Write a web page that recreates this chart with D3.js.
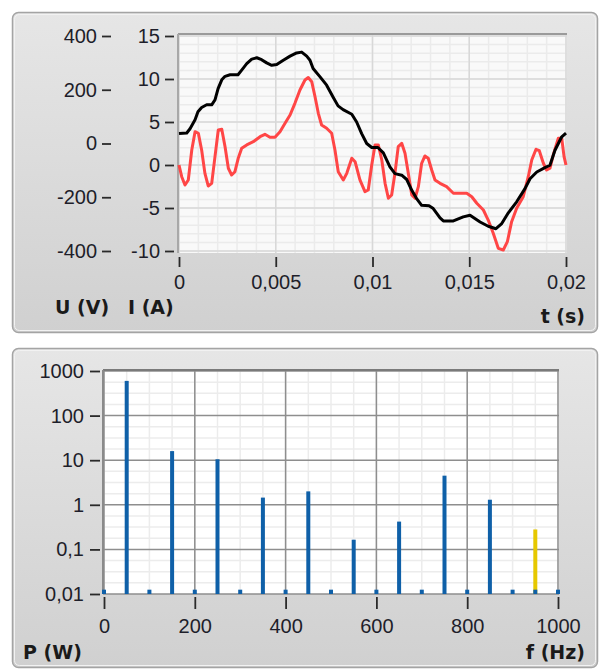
<!DOCTYPE html>
<html>
<head>
<meta charset="utf-8">
<script src="https://cdn.jsdelivr.net/npm/d3@7/dist/d3.min.js"></script>
<style>
  html, body { margin: 0; padding: 0; background: #ffffff; }
  svg { display: block; }
</style>
</head>
<body>
<svg id="chart" width="600" height="671"></svg>
<script>
// ---------------- DATA ----------------
// Voltage U (V) – black curve; time in ms
const tU = [0,0.4,0.57,0.83,0.98,1.17,1.43,1.69,1.86,2.02,2.21,2.38,2.64,3.05,3.24,3.5,3.76,4.02,4.27,4.53,4.79,5.05,5.39,5.74,6.08,6.34,6.6,6.77,6.93,7.29,7.63,7.96,8.22,8.48,8.93,9.18,9.44,9.7,9.96,10.28,10.56,10.9,11.16,11.51,11.77,12.03,12.28,12.54,12.92,13.14,13.49,13.66,14.18,14.69,15.04,15.56,15.98,16.38,16.68,17.02,17.45,17.88,18.14,18.49,18.91,19.17,19.43,19.78,20];
const uVolt = [37,39,55,88,118,134,144,144,162,204,237,250,256,256,273,297,314,319,312,300,291,294,310,325,337,340,325,310,279,248,217,173,140,126,109,80,37,0,-15,-15,-35,-87,-112,-118,-134,-174,-205,-230,-232,-242,-277,-288,-288,-273,-267,-292,-308,-317,-298,-258,-217,-168,-131,-106,-90,-81,-25,25,39];
// Current I (A) – red curve; time in ms
const tI = [0,0.14,0.31,0.48,0.66,0.83,1.0,1.17,1.34,1.51,1.69,1.86,2.03,2.21,2.38,2.55,2.72,2.89,3.06,3.24,3.5,3.84,4.19,4.44,4.7,4.96,5.22,5.48,5.74,5.99,6.25,6.51,6.68,6.86,7.03,7.2,7.37,7.63,7.89,8.06,8.23,8.49,8.67,8.93,9.1,9.35,9.61,9.78,9.96,10.13,10.3,10.48,10.65,10.82,10.99,11.16,11.33,11.51,11.68,11.85,12.03,12.2,12.37,12.54,12.71,12.88,13.06,13.23,13.49,13.83,14.18,14.87,15.13,15.39,15.73,15.98,16.24,16.5,16.76,16.97,17.19,17.45,17.79,18.05,18.23,18.45,18.62,18.83,19.0,19.17,19.34,19.6,19.78,19.9,20];
const iAmp = [0,-1.36,-2.33,-1.74,1.74,3.87,3.69,1.74,-0.97,-2.44,-2.13,0.97,4.07,4.15,2.13,-0.38,-1.16,-0.78,0.78,1.94,2.33,2.71,3.29,3.57,3.22,3.22,3.87,4.85,5.81,7.17,8.72,9.88,10.17,9.69,7.94,6.01,4.65,4.27,3.69,1.74,-0.78,-1.74,-0.97,0.78,0.38,-1.74,-3.1,-2.91,0,2.33,2.33,0.58,-2.13,-3.87,-3.49,-0.97,2.13,2.52,1.36,-0.97,-3.49,-3.87,-2.52,0.2,1.05,0.78,-0.58,-1.74,-2.13,-2.52,-3.29,-3.29,-3.69,-4.45,-5.23,-6.4,-7.94,-9.69,-9.88,-8.92,-6.59,-5.03,-3.69,-1.36,0.58,1.83,1.66,0.2,-0.58,-0.38,1.16,3.1,3.1,0.97,0];

// Spectrum P (W)
const fHz = [0,50,100,150,200,250,300,350,400,450,500,550,600,650,700,750,800,850,900,950,1000];
const pW  = [0.0125,600,0.0125,16,0.0125,10.5,0.0125,1.45,0.0125,2.0,0.0125,0.165,0.0125,0.42,0.0125,4.5,0.0125,1.3,0.0125,0.0125,0.0125];
const fHighlight = [950];
const pHighlight = [0.28];

// Tick values
const tTicks = [0,0.005,0.01,0.015,0.02];
const uTicks = [-400,-200,0,200,400];
const iTicks = [-10,-5,0,5,10,15];
const fTicks = [0,200,400,600,800,1000];
const pTicks = [0.01,0.1,1,10,100,1000];

// ---------------- DRAW ----------------
const svg = d3.select("#chart");
const comma = v => String(v).replace(".", ",");
const TICK_FONT = "'Liberation Sans', Arial, sans-serif";
const LABEL_FONT = "'DejaVu Sans', sans-serif";
const TEXT_COL = "#1e1e2a";

const defs = svg.append("defs");
const grad = defs.append("linearGradient").attr("id", "panelGrad")
  .attr("x1", 0).attr("y1", 0).attr("x2", 0).attr("y2", 1);
grad.append("stop").attr("offset", "0%").attr("stop-color", "#e6e6e6");
grad.append("stop").attr("offset", "100%").attr("stop-color", "#d0d0d0");

function panel(y, h) {
  svg.append("rect").attr("x", 12.5).attr("y", y + 0.5).attr("width", 585).attr("height", h)
    .attr("rx", 6).attr("fill", "url(#panelGrad)").attr("stroke", "#a4a4a4").attr("stroke-width", 1.5);
  svg.append("rect").attr("x", 14.5).attr("y", y + 2.5).attr("width", 581).attr("height", h - 4)
    .attr("rx", 5).attr("fill", "none").attr("stroke", "#f2f2f2").attr("stroke-width", 1);
}
panel(12, 320);
panel(348, 319);

function styleAxis(g) {
  g.select(".domain").remove();
  g.selectAll(".tick line").attr("stroke", "#2a2a2a").attr("stroke-width", 1.8);
  g.selectAll(".tick text").attr("fill", TEXT_COL).style("font-family", TICK_FONT).style("font-size", "20px");
}

// ---- Top chart ----
const x1 = d3.scaleLinear().domain([0, 0.02]).range([179, 566]);
const yI = d3.scaleLinear().domain([-10, 15]).range([251, 36]);
const yU = d3.scaleLinear().domain([-400, 400]).range([251, 36]);
const box1 = { l: 178, r: 567, t: 34, b: 253 };

svg.append("rect").attr("x", box1.l).attr("y", box1.t).attr("width", box1.r - box1.l).attr("height", box1.b - box1.t)
  .attr("fill", "#f9f9f9");
const g1 = svg.append("g");
const tMinor = d3.range(0, 0.02001, 0.001);
g1.selectAll(".vmin").data(tMinor).join("line")
  .attr("x1", d => x1(d)).attr("x2", d => x1(d)).attr("y1", box1.t).attr("y2", box1.b)
  .attr("stroke", "#ebebeb").attr("stroke-width", 1.5);
const iMinor = d3.range(-10, 15.01, 1);
g1.selectAll(".hmin").data(iMinor).join("line")
  .attr("x1", box1.l).attr("x2", box1.r).attr("y1", d => yI(d)).attr("y2", d => yI(d))
  .attr("stroke", "#ebebeb").attr("stroke-width", 1.5);
g1.selectAll(".vmaj").data(tTicks).join("line")
  .attr("x1", d => x1(d)).attr("x2", d => x1(d)).attr("y1", box1.t).attr("y2", box1.b)
  .attr("stroke", "#d8d8d8").attr("stroke-width", 1.5);
g1.selectAll(".hmaj").data(iTicks).join("line")
  .attr("x1", box1.l).attr("x2", box1.r).attr("y1", d => yI(d)).attr("y2", d => yI(d))
  .attr("stroke", "#d8d8d8").attr("stroke-width", 1.5);
svg.append("line").attr("x1", box1.l).attr("x2", box1.r).attr("y1", box1.t).attr("y2", box1.t)
  .attr("stroke", "#9a9a9a").attr("stroke-width", 2);
svg.append("line").attr("x1", box1.l).attr("x2", box1.l).attr("y1", box1.t).attr("y2", box1.b)
  .attr("stroke", "#a8a8a8").attr("stroke-width", 2);

const uData = tU.map((t, i) => [t / 1000, uVolt[i]]);
const iData = tI.map((t, i) => [t / 1000, iAmp[i]]);
svg.append("path").datum(iData)
  .attr("d", d3.line().x(d => x1(d[0])).y(d => yI(d[1])))
  .attr("fill", "none").attr("stroke", "#ff4646").attr("stroke-width", 3).attr("stroke-linejoin", "round");
svg.append("path").datum(uData)
  .attr("d", d3.line().x(d => x1(d[0])).y(d => yU(d[1])))
  .attr("fill", "none").attr("stroke", "#000000").attr("stroke-width", 3).attr("stroke-linejoin", "round");

svg.append("g").attr("transform", "translate(0,257)")
  .call(d3.axisBottom(x1).tickValues(tTicks).tickSize(10).tickPadding(8).tickFormat(comma))
  .call(styleAxis);
svg.append("g").attr("transform", "translate(174,0)")
  .call(d3.axisLeft(yI).tickValues(iTicks).tickSize(9).tickPadding(5).tickFormat(comma))
  .call(styleAxis);
svg.append("g").attr("transform", "translate(111,0)")
  .call(d3.axisLeft(yU).tickValues(uTicks).tickSize(9).tickPadding(5).tickFormat(comma))
  .call(styleAxis);

function label(txt, x, y, anchor) {
  svg.append("text").attr("x", x).attr("y", y).attr("text-anchor", anchor)
    .attr("fill", "#1a1a1a").style("font-family", LABEL_FONT).style("font-weight", "bold")
    .style("font-size", "19px").text(txt);
}
label("U (V)", 55, 314, "start");
label("I (A)", 128, 314, "start");
label("t (s)", 585, 323, "end");

// ---- Bottom chart ----
const x2 = d3.scaleLinear().domain([0, 1000]).range([104, 558]);
const yP = d3.scaleLog().domain([0.01, 1000]).range([594, 371]);
const box2 = { l: 103, r: 559, t: 370, b: 594 };

svg.append("rect").attr("x", box2.l).attr("y", box2.t).attr("width", box2.r - box2.l).attr("height", box2.b - box2.t)
  .attr("fill", "#ffffff");
const g2 = svg.append("g");
const fMinor = d3.range(0, 1000.1, 50);
g2.selectAll(".vmin").data(fMinor).join("line")
  .attr("x1", d => x2(d)).attr("x2", d => x2(d)).attr("y1", box2.t).attr("y2", box2.b)
  .attr("stroke", "#ececec").attr("stroke-width", 1.5);
const pMinor = [];
for (let k = -2; k < 3; k++) [0.25, 0.5, 0.75].forEach(f => pMinor.push(Math.pow(10, k + f)));
g2.selectAll(".hmin").data(pMinor).join("line")
  .attr("x1", box2.l).attr("x2", box2.r).attr("y1", d => yP(d)).attr("y2", d => yP(d))
  .attr("stroke", "#ececec").attr("stroke-width", 1.5);
g2.selectAll(".vmaj").data(fTicks).join("line")
  .attr("x1", d => x2(d)).attr("x2", d => x2(d)).attr("y1", box2.t).attr("y2", box2.b)
  .attr("stroke", "#8e8e8e").attr("stroke-width", 1.5);
g2.selectAll(".hmaj").data(pTicks).join("line")
  .attr("x1", box2.l).attr("x2", box2.r).attr("y1", d => yP(d)).attr("y2", d => yP(d))
  .attr("stroke", "#8e8e8e").attr("stroke-width", 1.5);
svg.append("line").attr("x1", box2.l).attr("x2", box2.r).attr("y1", box2.t).attr("y2", box2.t)
  .attr("stroke", "#7a7a7a").attr("stroke-width", 2);
svg.append("line").attr("x1", box2.l).attr("x2", box2.l).attr("y1", box2.t).attr("y2", box2.b)
  .attr("stroke", "#8a8a8a").attr("stroke-width", 2);

const barW = 4;
svg.append("g").selectAll("rect").data(fHighlight.map((f, i) => [f, pHighlight[i]])).join("rect")
  .attr("x", d => x2(d[0]) - barW / 2).attr("width", barW)
  .attr("y", d => yP(d[1])).attr("height", d => yP(0.01) - yP(d[1]))
  .attr("fill", "#e6c800");
svg.append("g").selectAll("rect").data(fHz.map((f, i) => [f, pW[i]])).join("rect")
  .attr("x", d => x2(d[0]) - barW / 2).attr("width", barW)
  .attr("y", d => yP(d[1])).attr("height", d => yP(0.01) - yP(d[1]))
  .attr("fill", "#0f60a8");

svg.append("g").attr("transform", "translate(0,597)")
  .call(d3.axisBottom(x2).tickValues(fTicks).tickSize(12).tickPadding(10).tickFormat(comma))
  .call(styleAxis);
svg.append("g").attr("transform", "translate(100,0)")
  .call(d3.axisLeft(yP).tickValues(pTicks).tickSize(10).tickPadding(6).tickFormat(comma))
  .call(styleAxis);

label("P (W)", 23, 659, "start");
label("f (Hz)", 585, 659, "end");
</script>
</body>
</html>
